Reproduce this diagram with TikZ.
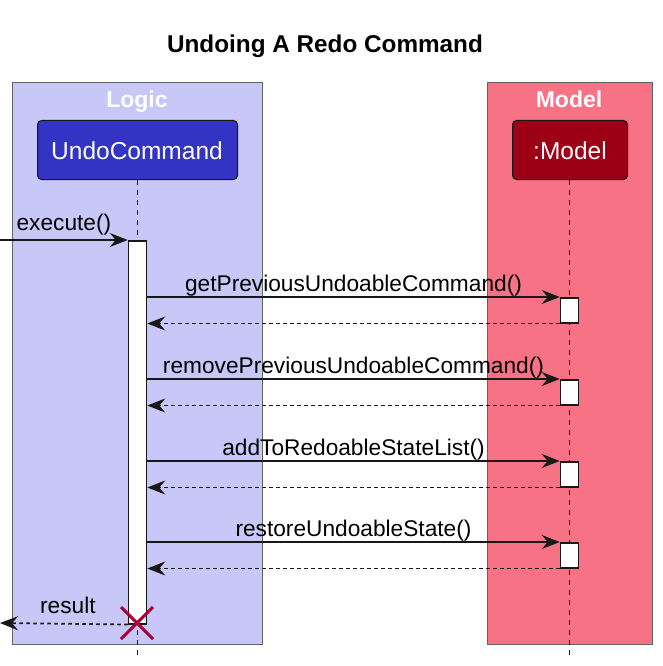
\documentclass[tikz,border=0pt]{standalone}
\usepackage{fontspec}
\setmainfont{Liberation Sans}
\usetikzlibrary{arrows.meta}
\definecolor{logicbg}{RGB}{200,200,248}
\definecolor{undobox}{RGB}{51,51,196}
\definecolor{modelbg}{RGB}{248,114,133}
\definecolor{modelbox}{RGB}{157,0,22}
\definecolor{destroyred}{RGB}{168,0,54}
\definecolor{pkgborder}{RGB}{100,100,100}
\definecolor{ink}{RGB}{24,24,24}
\tikzset{
  pkg/.style={draw=pkgborder, line width=1, inner sep=0, anchor=north west},
  pkglabel/.style={anchor=base, text=white, font=\bfseries\fontsize{23}{27}\selectfont},
  part/.style={draw=ink, line width=1, rounded corners=4, inner sep=0, anchor=north west, text=white,
    font=\fontsize{24.5}{28}\selectfont},
  lifeline/.style={draw=ink, line width=1, dash pattern=on 5pt off 5pt},
  actbar/.style={draw=ink, fill=white, line width=1.5, inner sep=0, minimum width=18, anchor=north},
  msg/.style={draw=ink, line width=1.5, -{Stealth[length=18pt,width=14pt,inset=6pt]}},
  ret/.style={msg, line width=1.7, dash pattern=on 3.5pt off 3.5pt},
  msglabel/.style={anchor=base, inner sep=0, text=black, font=\fontsize{22.7}{26}\selectfont},
  crossline/.style={draw=destroyred, line width=3}
}
\begin{document}
\begin{tikzpicture}[x=1pt,y=-1pt]
\useasboundingbox (0,0) rectangle (662,666);
% title
\node[anchor=base, font=\bfseries\fontsize{24.3}{28}\selectfont] (title) at (325,53) {Undoing A Redo Command};
% packages
\node[pkg, fill=logicbg, minimum width=250, minimum height=562] (logicpkg) at (12,82) {};
\node[pkg, fill=modelbg, minimum width=165, minimum height=562] (modelpkg) at (487,82) {};
\node[pkglabel] (logiclbl) at (137,107) {Logic};
\node[pkglabel] (modellbl) at (569,107) {Model};
% participants
\node[part, fill=undobox, minimum width=200, minimum height=59] (undo) at (37,120) {};
\node[anchor=base, text=white, font=\fontsize{24.5}{28}\selectfont] (undotxt) at (137,159) {UndoCommand};
\node[part, fill=modelbox, minimum width=115, minimum height=59] (model) at (512,120) {};
\node[anchor=base, text=white, font=\fontsize{24.5}{28}\selectfont] (modeltxt) at (570,159) {:Model};
% lifelines
\coordinate (undoend) at (137,656);
\coordinate (modelend) at (569,656);
\draw[lifeline] (undo.south -| undoend) -- (undoend);
\draw[lifeline] (model.south -| modelend) -- (modelend);
% activation bars
\node[actbar, minimum height=383] (a0) at (137.5,240) {};
\node[actbar, minimum height=25] (m1) at (569.5,297) {};
\node[actbar, minimum height=25] (m2) at (569.5,379) {};
\node[actbar, minimum height=25] (m3) at (569.5,461) {};
\node[actbar, minimum height=25] (m4) at (569.5,542) {};
% execute
\coordinate (src) at (0,240);
\draw[msg] (src) -- node[msglabel, yshift=10pt] (l0) {execute()} (a0.north west);
% calls and returns
\draw[msg] (a0.east |- m1.north) -- node[msglabel, yshift=6pt] (l1) {getPreviousUndoableCommand()} (m1.north west);
\draw[ret] (m1.south west) -- (a0.east |- m1.south);
\draw[msg] (a0.east |- m2.north) -- node[msglabel, yshift=6pt] (l2) {removePreviousUndoableCommand()} (m2.north west);
\draw[ret] (m2.south west) -- (a0.east |- m2.south);
\draw[msg] (a0.east |- m3.north) -- node[msglabel, yshift=6pt] (l3) {addToRedoableStateList()} (m3.north west);
\draw[ret] (m3.south west) -- (a0.east |- m3.south);
\draw[msg] (a0.east |- m4.north) -- node[msglabel, yshift=6pt] (l4) {restoreUndoableState()} (m4.north west);
\draw[ret] (m4.south west) -- (a0.east |- m4.south);
% result
\coordinate (dst) at (0,623);
\draw[ret] (a0.south west) -- node[msglabel, yshift=10pt, xshift=4pt] (l5) {result} (dst);
% destroy
\coordinate (xc) at (137,623);
\draw[crossline] (xc) ++(-16,-16) -- ++(32,32);
\draw[crossline] (xc) ++(16,-16) -- ++(-32,32);
\end{tikzpicture}
\end{document}
